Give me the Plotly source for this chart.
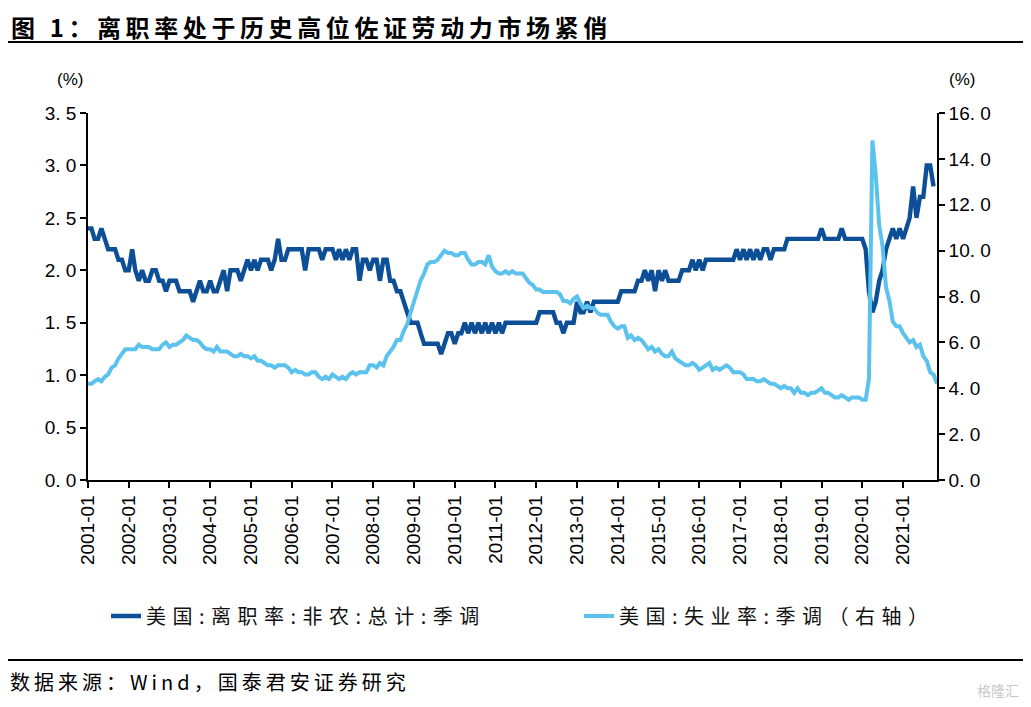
import plotly.graph_objects as go
import pandas as pd

# ---------------- data ----------------
start_month = "2001-01-01"

# 美国:离职率:非农:总计:季调 (%), monthly 2001-01 .. 2021-10
quits_rate = [
    2.4, 2.4, 2.3, 2.3, 2.4, 2.3, 2.2, 2.2, 2.2, 2.1, 2.1, 2.0,   # 2001
    2.0, 2.2, 2.0, 1.9, 2.0, 1.9, 1.9, 2.0, 2.0, 1.9, 1.9, 1.8,   # 2002
    1.9, 1.9, 1.9, 1.8, 1.8, 1.8, 1.8, 1.7, 1.8, 1.9, 1.8, 1.8,   # 2003
    1.9, 1.8, 1.8, 1.9, 2.0, 1.8, 2.0, 2.0, 2.0, 1.9, 2.0, 2.1,   # 2004
    2.0, 2.1, 2.0, 2.1, 2.1, 2.1, 2.0, 2.1, 2.3, 2.1, 2.1, 2.2,   # 2005
    2.2, 2.2, 2.2, 2.2, 2.0, 2.2, 2.2, 2.2, 2.2, 2.1, 2.2, 2.2,   # 2006
    2.2, 2.1, 2.2, 2.1, 2.2, 2.1, 2.2, 2.2, 1.9, 2.1, 2.1, 2.0,   # 2007
    2.1, 2.1, 1.9, 2.1, 2.1, 1.9, 1.9, 1.8, 1.8, 1.7, 1.6, 1.5,   # 2008
    1.5, 1.5, 1.4, 1.3, 1.3, 1.3, 1.3, 1.3, 1.2, 1.3, 1.4, 1.4,   # 2009
    1.3, 1.4, 1.4, 1.5, 1.4, 1.5, 1.4, 1.5, 1.4, 1.5, 1.4, 1.5,   # 2010
    1.4, 1.5, 1.4, 1.5, 1.5, 1.5, 1.5, 1.5, 1.5, 1.5, 1.5, 1.5,   # 2011
    1.5, 1.6, 1.6, 1.6, 1.6, 1.6, 1.5, 1.5, 1.4, 1.5, 1.5, 1.5,   # 2012
    1.7, 1.6, 1.6, 1.7, 1.6, 1.7, 1.7, 1.7, 1.7, 1.7, 1.7, 1.7,   # 2013
    1.7, 1.8, 1.8, 1.8, 1.8, 1.8, 1.9, 1.9, 2.0, 1.9, 2.0, 1.8,   # 2014
    2.0, 1.9, 2.0, 1.9, 1.9, 1.9, 1.9, 2.0, 2.0, 2.0, 2.1, 2.0,   # 2015
    2.1, 2.0, 2.1, 2.1, 2.1, 2.1, 2.1, 2.1, 2.1, 2.1, 2.1, 2.2,   # 2016
    2.1, 2.2, 2.1, 2.2, 2.1, 2.2, 2.1, 2.2, 2.2, 2.1, 2.2, 2.2,   # 2017
    2.2, 2.2, 2.3, 2.3, 2.3, 2.3, 2.3, 2.3, 2.3, 2.3, 2.3, 2.3,   # 2018
    2.4, 2.3, 2.3, 2.3, 2.3, 2.3, 2.4, 2.3, 2.3, 2.3, 2.3, 2.3,   # 2019
    2.3, 2.2, 1.8, 1.6, 1.7, 1.9, 2.0, 2.2, 2.3, 2.4, 2.3, 2.4,   # 2020
    2.3, 2.4, 2.5, 2.8, 2.5, 2.7, 2.7, 3.0, 3.0, 2.8,             # 2021
]

# 美国:失业率:季调 (%), monthly 2001-01 .. 2021-11
unemployment_rate = [
    4.2, 4.2, 4.3, 4.4, 4.3, 4.5, 4.6, 4.9, 5.0, 5.3, 5.5, 5.7,   # 2001
    5.7, 5.7, 5.7, 5.9, 5.8, 5.8, 5.8, 5.7, 5.7, 5.7, 5.9, 6.0,   # 2002
    5.8, 5.9, 5.9, 6.0, 6.1, 6.3, 6.2, 6.1, 6.1, 6.0, 5.8, 5.7,   # 2003
    5.7, 5.6, 5.8, 5.6, 5.6, 5.6, 5.5, 5.4, 5.4, 5.5, 5.4, 5.4,   # 2004
    5.3, 5.4, 5.2, 5.2, 5.1, 5.0, 5.0, 4.9, 5.0, 5.0, 5.0, 4.9,   # 2005
    4.7, 4.8, 4.7, 4.7, 4.6, 4.6, 4.7, 4.7, 4.5, 4.4, 4.5, 4.4,   # 2006
    4.6, 4.5, 4.4, 4.5, 4.4, 4.6, 4.7, 4.6, 4.7, 4.7, 4.7, 5.0,   # 2007
    5.0, 4.9, 5.1, 5.0, 5.4, 5.6, 5.8, 6.1, 6.1, 6.5, 6.8, 7.3,   # 2008
    7.8, 8.3, 8.7, 9.0, 9.4, 9.5, 9.5, 9.6, 9.8, 10.0, 9.9, 9.9,  # 2009
    9.8, 9.8, 9.9, 9.9, 9.6, 9.4, 9.4, 9.5, 9.5, 9.4, 9.8, 9.3,   # 2010
    9.1, 9.0, 9.0, 9.1, 9.0, 9.1, 9.0, 9.0, 9.0, 8.8, 8.6, 8.5,   # 2011
    8.3, 8.3, 8.2, 8.2, 8.2, 8.2, 8.2, 8.1, 7.8, 7.8, 7.7, 7.9,   # 2012
    8.0, 7.7, 7.5, 7.6, 7.5, 7.5, 7.3, 7.2, 7.2, 7.2, 6.9, 6.7,   # 2013
    6.6, 6.7, 6.7, 6.2, 6.3, 6.1, 6.2, 6.1, 5.9, 5.7, 5.8, 5.6,   # 2014
    5.7, 5.5, 5.4, 5.4, 5.6, 5.3, 5.2, 5.1, 5.0, 5.0, 5.1, 5.0,   # 2015
    4.8, 4.9, 5.0, 5.1, 4.8, 4.9, 4.8, 4.9, 5.0, 4.9, 4.7, 4.7,   # 2016
    4.7, 4.6, 4.4, 4.4, 4.4, 4.3, 4.3, 4.4, 4.3, 4.2, 4.2, 4.1,   # 2017
    4.0, 4.1, 4.0, 4.0, 3.8, 4.0, 3.8, 3.8, 3.7, 3.8, 3.8, 3.9,   # 2018
    4.0, 3.8, 3.8, 3.7, 3.6, 3.6, 3.7, 3.6, 3.5, 3.6, 3.6, 3.6,   # 2019
    3.5, 3.5, 4.4, 14.8, 13.3, 11.1, 10.2, 8.4, 7.8, 6.9, 6.7, 6.7,  # 2020
    6.4, 6.2, 6.0, 6.1, 5.8, 5.9, 5.4, 5.2, 4.7, 4.6, 4.2,        # 2021
]

tick_years = list(range(2001, 2022))
tick_labels = [f"{y}-01" for y in tick_years]
left_ticks = [0.0, 0.5, 1.0, 1.5, 2.0, 2.5, 3.0, 3.5]
right_ticks = [0.0, 2.0, 4.0, 6.0, 8.0, 10.0, 12.0, 14.0, 16.0]

name_quits = "美国:离职率:非农:总计:季调"
name_unemp = "美国:失业率:季调（右轴）"
title_text = "图 1：离职率处于历史高位佐证劳动力市场紧俏"
source_text = "数据来源：Wind，国泰君安证券研究"

# ---------------- figure ----------------
# page body has an 8px margin, so the figure is sized to fit inside it
PAGE_OFF = 8
W, H = 1031 - 2 * PAGE_OFF, 707 - 2 * PAGE_OFF
L, R, T, B = 88, 937, 113, 480  # plot area in screen pixels


def px(x):
    return (x - L) / (R - L)


def py(y):
    return (B - y) / (B - T)


x_quits = pd.date_range(start_month, periods=len(quits_rate), freq="MS")
x_unemp = pd.date_range(start_month, periods=len(unemployment_rate), freq="MS")
tickvals_x = [pd.Timestamp(f"{y}-01-01") for y in tick_years]

DARK = "#0c4f96"
LIGHT = "#5bc2ee"
CJK = "Noto Sans CJK SC"
LAT = "Liberation Sans"


def spaced(t, ls):
    return f'<span style="letter-spacing:{ls}px">{t}</span>'


fig = go.Figure()
fig.add_trace(go.Scatter(x=x_quits, y=quits_rate, mode="lines",
                         name=spaced(name_quits, 6.5), legend="legend",
                         line=dict(color=DARK, width=4.4), yaxis="y"))
fig.add_trace(go.Scatter(x=x_unemp, y=unemployment_rate, mode="lines",
                         name=spaced(name_unemp, 6.5), legend="legend2",
                         line=dict(color=LIGHT, width=4.0), yaxis="y2"))

axis_common = dict(showline=True, linecolor="black", linewidth=1.6,
                   ticks="outside", ticklen=6, tickwidth=1.6, tickcolor="black",
                   showgrid=False, zeroline=False)

legend_common = dict(orientation="h", xanchor="left", yanchor="middle",
                     y=py(616), font=dict(family=CJK, size=20, color="#111"),
                     itemwidth=30, bgcolor="rgba(0,0,0,0)")

fig.update_layout(
    width=W, height=H,
    margin=dict(l=L - PAGE_OFF, r=(W + PAGE_OFF) - R, t=T - PAGE_OFF,
                b=(H + PAGE_OFF) - B),
    paper_bgcolor="white", plot_bgcolor="white",
    showlegend=True,
    legend=dict(**legend_common, x=px(106)),
    legend2=dict(**legend_common, x=px(579)),
    xaxis=dict(**axis_common, type="date",
               range=[pd.Timestamp("2001-01-01"), pd.Timestamp("2021-11-01")],
               tickvals=tickvals_x, ticktext=tick_labels, tickangle=-90,
               tickfont=dict(family=LAT, size=19, color="black")),
    yaxis=dict(**axis_common, range=[0, 3.5], tickvals=left_ticks,
               ticktext=[f"{v:.1f}".replace(".", ". ") for v in left_ticks],
               tickfont=dict(family=LAT, size=19, color="black")),
    yaxis2=dict(**axis_common, range=[0, 16], overlaying="y", side="right",
                tickvals=right_ticks,
                ticktext=[f"{v:.1f}".replace(".", ". ") for v in right_ticks],
                tickfont=dict(family=LAT, size=19, color="black")),
)

annotations = [
    dict(text=spaced("<b>" + title_text + "</b>", 4.6), x=px(10), y=py(8),
         xanchor="left", yanchor="top", borderpad=0,
         font=dict(family=CJK, size=24, color="black")),
    dict(text="(%)", x=px(70), y=py(80), xanchor="center", yanchor="middle",
         font=dict(family=LAT, size=17, color="black")),
    dict(text="(%)", x=px(962), y=py(80), xanchor="center", yanchor="middle",
         font=dict(family=LAT, size=17, color="black")),
    dict(text=spaced(source_text, 4), x=px(8), y=py(681),
         xanchor="left", yanchor="middle",
         font=dict(family=CJK, size=20, color="black")),
    dict(text="格隆汇", x=px(1021), y=py(690), xanchor="right", yanchor="middle",
         font=dict(family=CJK, size=14, color="#c8c8c8")),
]
for a in annotations:
    a.update(xref="paper", yref="paper", showarrow=False)
fig.update_layout(annotations=annotations)

for yline in (42, 660):
    fig.add_shape(type="line", xref="paper", yref="paper",
                  x0=px(8), x1=px(1023), y0=py(yline), y1=py(yline),
                  line=dict(color="black", width=2))

fig.write_html("out.html")
